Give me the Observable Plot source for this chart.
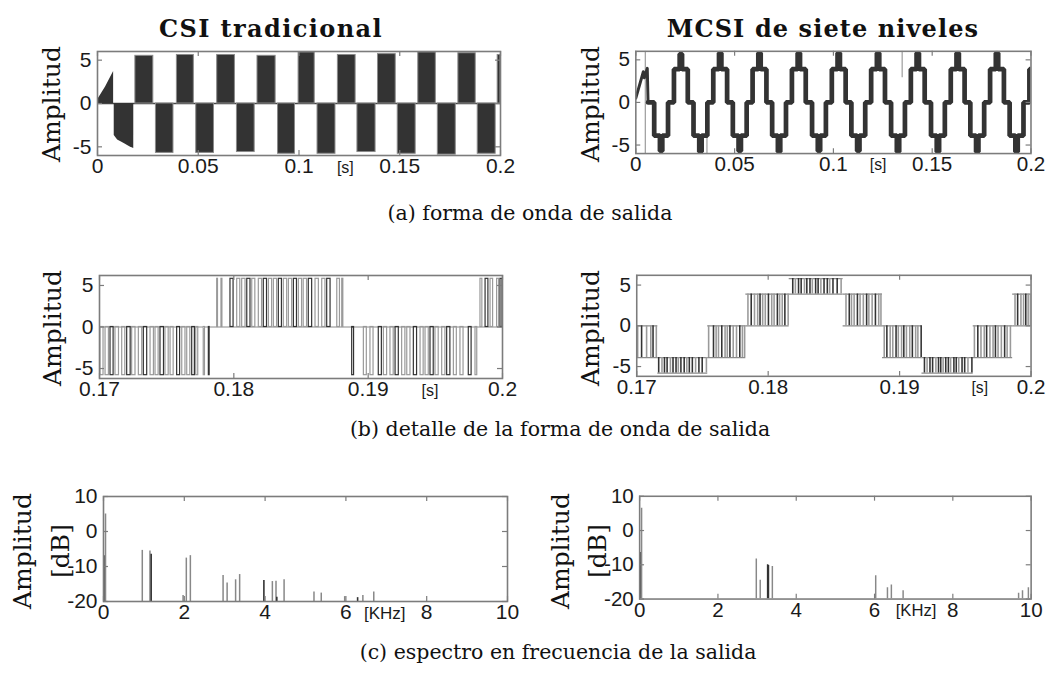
<!DOCTYPE html>
<html><head><meta charset="utf-8">
<script src="https://cdn.jsdelivr.net/npm/d3@7"></script>
<script src="https://cdn.jsdelivr.net/npm/@observablehq/plot@0.6"></script>
<style>
body{margin:0;background:#fff;}
#fig{position:relative;width:1060px;height:680px;overflow:hidden;background:#fff;}
.panel{position:absolute;}
#overlay{position:absolute;left:0;top:0;pointer-events:none;}
</style></head><body><div id="fig"></div>
<script>
// ---------- (a) left: CSI tradicional, full waveform ----------
const csiRampT = [0, 0.0040, 0.0080];
const csiRampV = [0.4, 1.9, 3.7];
const csiFirstNegT = [0.0083, 0.0100, 0.0130, 0.0160, 0.0180];
const csiFirstNegV = [-3.7, -4.2, -4.6, -5.0, -5.2];
const csiPosStart = [0.0188, 0.0394, 0.0594, 0.0794, 0.0998, 0.1193, 0.1392, 0.1592, 0.1791, 0.1986];
const csiPosEnd   = [0.0277, 0.0478, 0.0682, 0.0884, 0.1078, 0.1281, 0.1480, 0.1679, 0.1877, 0.2000];
const csiPosLevel = [5.5, 5.6, 5.6, 5.5, 5.9, 5.6, 5.7, 5.9, 5.8, 5.6];
const csiNegStart = [0.0290, 0.0490, 0.0692, 0.0896, 0.1092, 0.1290, 0.1490, 0.1689, 0.1887];
const csiNegEnd   = [0.0377, 0.0578, 0.0780, 0.0980, 0.1181, 0.1380, 0.1579, 0.1778, 0.1976];
const csiNegLevel = [-5.7, -5.7, -5.6, -5.8, -5.8, -5.6, -5.8, -5.9, -5.8];

// ---------- (a) right: MCSI de siete niveles ----------
const mcsiStartT = [0, 0.0038, 0.0043, 0.0058, 0.0062];
const mcsiStartV = [0.5, 3.6, 2.9, 4.0, 0];
const mcsiT = [
 0.0062,
 0.0093,0.0122,0.0134,0.0163,0.0193,0.0222,0.0234,0.0263,
 0.0292,0.0321,0.0333,0.0362,0.0392,0.0421,0.0433,0.0462,
 0.0491,0.0520,0.0532,0.0561,0.0591,0.0620,0.0632,0.0661,
 0.0690,0.0719,0.0731,0.0760,0.0790,0.0819,0.0831,0.0860,
 0.0892,0.0921,0.0933,0.0962,0.0992,0.1021,0.1033,0.1062,
 0.1091,0.1120,0.1132,0.1161,0.1191,0.1220,0.1232,0.1261,
 0.1292,0.1321,0.1333,0.1362,0.1392,0.1421,0.1433,0.1462,
 0.1494,0.1523,0.1535,0.1564,0.1594,0.1623,0.1635,0.1664,
 0.1693,0.1722,0.1734,0.1763,0.1793,0.1822,0.1834,0.1863,
 0.1892,0.1921,0.1933,0.1962,0.1992,0.2000
];
const mcsiV = [
 0,
 -3.9,-5.7,-3.9,0,3.9,5.7,3.9,0,
 -3.9,-5.8,-3.9,0,3.9,5.8,3.9,0,
 -3.9,-5.7,-3.9,0,3.9,5.8,3.9,0,
 -3.9,-5.8,-3.9,0,3.9,5.8,3.9,0,
 -3.9,-5.7,-3.9,0,3.9,5.8,3.9,0,
 -3.9,-5.7,-3.9,0,3.9,5.8,3.9,0,
 -3.9,-5.8,-3.9,0,3.9,5.8,3.9,0,
 -3.9,-5.8,-3.9,0,3.9,5.8,3.9,0,
 -3.9,-5.8,-3.9,0,3.9,5.8,3.9,0,
 -3.9,-5.8,-3.9,0,3.9,3.9
];
const mcsiSpikeT  = [0.0048, 0.0360, 0.1348];
const mcsiSpikeLo = [-6, -6, 2.9];
const mcsiSpikeHi = [6, 0, 6];

// ---------- (b) left: CSI detail, pulses ----------
const csiDetNeg1Start = [0.17007,0.17045,0.17082,0.17119,0.17169,0.17206,0.17243,0.17293,0.17330,0.17380,0.17417,0.17454,0.17491,0.17529,0.17578,0.17616,0.17653,0.17690,0.17720,0.17776,0.17814];
const csiDetNeg1End   = [0.17030,0.17070,0.17105,0.17145,0.17192,0.17232,0.17268,0.17318,0.17355,0.17405,0.17440,0.17480,0.17515,0.17552,0.17600,0.17640,0.17676,0.17710,0.17735,0.17785,0.17820];
const csiDetPos1Start = [0.17876,0.17908,0.17975,0.18025,0.18062,0.18100,0.18137,0.18186,0.18223,0.18261,0.18298,0.18335,0.18372,0.18410,0.18447,0.18484,0.18520,0.18558,0.18608,0.18658,0.18695,0.18770,0.18807];
const csiDetPos1End   = [0.17882,0.17915,0.17998,0.18048,0.18087,0.18124,0.18160,0.18210,0.18247,0.18285,0.18322,0.18358,0.18397,0.18434,0.18470,0.18508,0.18545,0.18583,0.18633,0.18682,0.18720,0.18790,0.18815];
const csiDetNeg2Start = [0.18881,0.18968,0.19017,0.19079,0.19117,0.19166,0.19204,0.19253,0.19291,0.19340,0.19390,0.19427,0.19464,0.19501,0.19551,0.19588,0.19638,0.19687,0.19749,0.19799];
const csiDetNeg2End   = [0.18895,0.18990,0.19040,0.19102,0.19141,0.19190,0.19228,0.19277,0.19315,0.19364,0.19413,0.19451,0.19488,0.19525,0.19575,0.19612,0.19660,0.19710,0.19770,0.19812];
const csiDetPos2Start = [0.19836,0.19874,0.19911,0.19960,0.19985];
const csiDetPos2End   = [0.19850,0.19895,0.19930,0.19975,0.20000];
const csiDetLevel = 5.8;

// ---------- (b) right: MCSI detail, level bands and switching instants ----------
const mcsiDetStart = [0.1700, 0.1716, 0.1754, 0.1783, 0.1816, 0.1857, 0.1887, 0.1917, 0.1956, 0.1986];
const mcsiDetEnd   = [0.1716, 0.1754, 0.1783, 0.1816, 0.1857, 0.1887, 0.1917, 0.1956, 0.1986, 0.2000];
const mcsiDetLo    = [-3.9, -5.8, -3.9, 0, 3.9, 0, -3.9, -5.8, -3.9, 0];
const mcsiDetHi    = [0, -3.9, 0, 3.9, 5.8, 3.9, 0, -3.9, 0, 3.9];
const mcsiDetPulses = [
 [0.17007,0.17037,0.17075,0.17107,0.17124,0.17149],
 [0.17167,0.17192,0.17211,0.17231,0.17256,0.17276,0.17299,0.17316,0.17336,0.17361,0.17381,0.17400,0.17423,0.17448,0.17473,0.17498,0.17530],
 [0.17547,0.17584,0.17604,0.17622,0.17647,0.17672,0.17689,0.17709,0.17734,0.17759,0.17784,0.17804,0.17821],
 [0.17846,0.17871,0.17896,0.17920,0.17938,0.17958,0.17978,0.18002,0.18027,0.18045,0.18070,0.18087,0.18107,0.18127,0.18152],
 [0.18187,0.18207,0.18231,0.18251,0.18276,0.18294,0.18318,0.18336,0.18361,0.18380,0.18401,0.18425,0.18450,0.18468,0.18493,0.18525,0.18555],
 [0.18592,0.18617,0.18634,0.18654,0.18679,0.18699,0.18724,0.18749,0.18766,0.18791,0.18816,0.18841,0.18858],
 [0.18883,0.18903,0.18928,0.18948,0.18973,0.18990,0.19015,0.19032,0.19052,0.19077,0.19097,0.19122,0.19139,0.19164],
 [0.19189,0.19209,0.19231,0.19251,0.19276,0.19296,0.19313,0.19331,0.19351,0.19371,0.19388,0.19413,0.19431,0.19450,0.19475,0.19495,0.19520,0.19550],
 [0.19569,0.19595,0.19619,0.19644,0.19662,0.19687,0.19711,0.19729,0.19749,0.19774,0.19799,0.19818,0.19843],
 [0.19878,0.19898,0.19923,0.19943,0.19960,0.19978,0.19995]
];

// ---------- (c) spectra ----------
const specLeftGrayF  = [0.05, 0.96, 1.15, 1.97, 2.05, 2.15, 2.96, 3.06, 3.27, 3.37, 4.18, 4.27, 4.47, 5.21, 5.39, 5.97, 6.42, 6.69];
const specLeftGrayDb = [5.0, -5.4, -5.6, -18.3, -7.6, -6.9, -12.6, -14.7, -13.8, -12.3, -14.3, -14.2, -13.8, -17.3, -17.6, -18.6, -18.3, -17.3];
const specLeftDarkF  = [0.01, 1.18, 3.97, 4.29, 6.29];
const specLeftDarkDb = [-6.9, -6.5, -14.0, -18.8, -18.9];
const specRightGrayF  = [0.05, 2.98, 3.08, 3.39, 6.03, 6.33, 6.43, 6.73, 9.68, 9.78, 9.93];
const specRightGrayDb = [6.5, -8.3, -14.5, -10.5, -13.2, -16.7, -15.9, -17.6, -18.3, -17.6, -16.7];
const specRightDarkF  = [0.01, 3.27, 3.29];
const specRightDarkDb = [-6.4, -10.0, -10.2];

// ---------- axes / text ----------
const timeTicksA = [0, 0.05, 0.1, 0.15, 0.2];
const timeTicksB = [0.17, 0.18, 0.19, 0.2];
const freqTicks = [0, 2, 4, 6, 8, 10];
const ampTicks = [-5, 0, 5];
const dbTicks = [-20, -10, 0, 10];
const titles = ["CSI tradicional", "MCSI de siete niveles"];
const captions = ["(a) forma de onda de salida", "(b) detalle de la forma de onda de salida", "(c) espectro en frecuencia de la salida"];

const DARK = "#333333", GRAY = "#9a9a9a", FRAME = "#7c7c7c", TICKC = "#7c7c7c";
const fig = document.getElementById("fig");

function panel({left, top, fw, fh, xDomain, yDomain, xTicks, yTicks, unit, unitX, unitSize, marks}) {
  const m = {l: 40, r: 30, t: 10, b: 34};
  const [x0, x1] = xDomain, [y0, y1] = yDomain;
  const dx = 5 * (x1 - x0) / fw, dy = 5 * (y1 - y0) / fh;
  const chart = Plot.plot({
    width: fw + m.l + m.r, height: fh + m.t + m.b,
    marginLeft: m.l, marginRight: m.r, marginTop: m.t, marginBottom: m.b,
    x: {domain: xDomain, axis: null, label: null},
    y: {domain: yDomain, axis: null, label: null},
    style: {background: "transparent", overflow: "visible", fontFamily: "'Liberation Sans', Arial, sans-serif", fontSize: "21px", color: "#1a1a1a"},
    marks: [
      ...marks,
      Plot.ruleX(xTicks, {x: d => d, y1: y0, y2: y0 + dy, stroke: TICKC, strokeWidth: 1.2}),
      Plot.ruleX(xTicks, {x: d => d, y1: y1 - dy, y2: y1, stroke: TICKC, strokeWidth: 1.2}),
      Plot.ruleY(yTicks, {y: d => d, x1: x0, x2: x0 + dx, stroke: TICKC, strokeWidth: 1.2}),
      Plot.ruleY(yTicks, {y: d => d, x1: x1 - dx, x2: x1, stroke: TICKC, strokeWidth: 1.2}),
      Plot.frame({stroke: FRAME, strokeWidth: 1.6}),
      Plot.axisX(xTicks, {tickSize: 0, tickPadding: 3, tickFormat: d => String(d), fontSize: 21, fill: "#1a1a1a", label: null}),
      Plot.axisY(yTicks, {tickSize: 0, tickPadding: 6, tickFormat: d => String(d), fontSize: 21, fill: "#1a1a1a", label: null}),
      Plot.text([unitX], {x: d => d, frameAnchor: "bottom", lineAnchor: "middle", dy: 12, text: () => unit, fontSize: unitSize, fill: "#1a1a1a"})
    ]
  });
  const div = document.createElement("div");
  div.className = "panel";
  div.style.left = (left - m.l) + "px";
  div.style.top = (top - m.t) + "px";
  div.appendChild(chart);
  fig.appendChild(div);
}

// (a) left
const csiBlocks = [
  ...csiPosStart.map((s, i) => ({s, e: csiPosEnd[i], v: csiPosLevel[i]})),
  ...csiNegStart.map((s, i) => ({s, e: csiNegEnd[i], v: csiNegLevel[i]}))
];
panel({left: 97, top: 51, fw: 403, fh: 104, xDomain: [0, 0.2], yDomain: [-6, 6],
  xTicks: timeTicksA, yTicks: ampTicks, unit: "[s]", unitX: 0.123, unitSize: 16,
  marks: [
    Plot.ruleY([0], {stroke: "#444", strokeWidth: 1.6}),
    Plot.areaY(csiRampT, {x: d => d, y: (d, i) => csiRampV[i], fill: DARK, clip: true}),
    Plot.areaY(csiFirstNegT, {x: d => d, y: (d, i) => csiFirstNegV[i], fill: DARK, clip: true}),
    Plot.rect(csiBlocks, {x1: "s", x2: "e", y1: 0, y2: "v", fill: DARK, stroke: "#8a8a8a", strokeWidth: 1, clip: true})
  ]});

// (a) right
panel({left: 636, top: 51, fw: 402, fh: 104, xDomain: [0, 0.2], yDomain: [-6, 6],
  xTicks: timeTicksA, yTicks: ampTicks, unit: "[s]", unitX: 0.1226, unitSize: 16,
  marks: [
    Plot.ruleX(mcsiSpikeT, {x: d => d, y1: (d, i) => mcsiSpikeLo[i], y2: (d, i) => mcsiSpikeHi[i], stroke: GRAY, strokeWidth: 1.2, clip: true}),
    Plot.line(mcsiStartT, {x: d => d, y: (d, i) => mcsiStartV[i], stroke: DARK, strokeWidth: 3, clip: true}),
    Plot.line(mcsiT, {x: d => d, y: (d, i) => mcsiV[i], curve: "step-after", stroke: DARK, strokeWidth: 4.8, strokeLinejoin: "miter", clip: true})
  ]});

// (b) left
const csiPulses = [
  ...csiDetNeg1Start.map((s, i) => ({s, e: csiDetNeg1End[i], v: -csiDetLevel})),
  ...csiDetPos1Start.map((s, i) => ({s, e: csiDetPos1End[i], v: csiDetLevel})),
  ...csiDetNeg2Start.map((s, i) => ({s, e: csiDetNeg2End[i], v: -csiDetLevel})),
  ...csiDetPos2Start.map((s, i) => ({s, e: csiDetPos2End[i], v: csiDetLevel}))
];
panel({left: 99, top: 275, fw: 403, fh: 103, xDomain: [0.17, 0.2], yDomain: [-6.2, 6.2],
  xTicks: timeTicksB, yTicks: ampTicks, unit: "[s]", unitX: 0.1946, unitSize: 16,
  marks: [
    Plot.ruleY([0], {stroke: "#8a8a8a", strokeWidth: 1.2}),
    Plot.rect(csiPulses, {x1: "s", x2: "e", y1: 0, y2: "v", fill: "none",
      stroke: (d, i) => (i % 3 === 2 ? DARK : GRAY), strokeWidth: 1.2, clip: true})
  ]});

// (b) right
const mcsiBands = mcsiDetStart.map((s, i) => ({s, e: mcsiDetEnd[i], lo: mcsiDetLo[i], hi: mcsiDetHi[i]}));
const mcsiSw = mcsiDetPulses.flatMap((ts, r) => ts.map((t, j) => ({t, lo: mcsiDetLo[r], hi: mcsiDetHi[r],
  outer: Math.abs(mcsiDetLo[r]) > 3 && Math.abs(mcsiDetHi[r]) > 3, j})));
panel({left: 637, top: 275, fw: 402, fh: 103, xDomain: [0.17, 0.2], yDomain: [-6.2, 6.2],
  xTicks: timeTicksB, yTicks: ampTicks, unit: "[s]", unitX: 0.1961, unitSize: 16,
  marks: [
    Plot.ruleY(mcsiBands, {y: "lo", x1: "s", x2: "e", stroke: "#8a8a8a", strokeWidth: 1.2, clip: true}),
    Plot.ruleY(mcsiBands, {y: "hi", x1: "s", x2: "e", stroke: "#8a8a8a", strokeWidth: 1.2, clip: true}),
    Plot.ruleX(mcsiSw, {x: "t", y1: "lo", y2: "hi", strokeWidth: 1.6, clip: true,
      stroke: d => d.outer ? (d.j % 3 === 1 ? GRAY : DARK) : (d.j % 3 === 1 ? DARK : GRAY)})
  ]});

// (c) left
panel({left: 103, top: 496, fw: 404, fh: 105, xDomain: [0, 10], yDomain: [-20, 10],
  xTicks: freqTicks, yTicks: dbTicks, unit: "[KHz]", unitX: 6.96, unitSize: 17,
  marks: [
    Plot.ruleX(specLeftGrayF, {x: d => d, y1: -20, y2: (d, i) => specLeftGrayDb[i], stroke: "#888", strokeWidth: 1.5, clip: true}),
    Plot.ruleX(specLeftDarkF, {x: d => d, y1: -20, y2: (d, i) => specLeftDarkDb[i], stroke: DARK, strokeWidth: 1.6, clip: true})
  ]});

// (c) right
panel({left: 640, top: 496, fw: 400, fh: 105, xDomain: [0, 10], yDomain: [-20, 10],
  xTicks: freqTicks, yTicks: dbTicks, unit: "[KHz]", unitX: 7.06, unitSize: 17,
  marks: [
    Plot.ruleX(specRightGrayF, {x: d => d, y1: -20, y2: (d, i) => specRightGrayDb[i], stroke: "#888", strokeWidth: 1.5, clip: true}),
    Plot.ruleX(specRightDarkF, {x: d => d, y1: -20, y2: (d, i) => specRightDarkDb[i], stroke: DARK, strokeWidth: 1.6, clip: true})
  ]});

// ---------- overlay text ----------
const svg = d3.select(fig).append("svg").attr("id", "overlay").attr("width", 1060).attr("height", 680);
const serif = "'DejaVu Serif', 'Liberation Serif', serif";
svg.append("text").attr("x", 271).attr("y", 37).attr("text-anchor", "middle").attr("letter-spacing", 1.4)
  .attr("font-family", serif).attr("font-weight", "bold").attr("font-size", 24).attr("fill", "#111").text(titles[0]);
svg.append("text").attr("x", 823).attr("y", 37).attr("text-anchor", "middle").attr("letter-spacing", 1.1)
  .attr("font-family", serif).attr("font-weight", "bold").attr("font-size", 24).attr("fill", "#111").text(titles[1]);
[[530, 220], [560, 436], [558, 659]].forEach(([x, y], i) => {
  svg.append("text").attr("x", x).attr("y", y).attr("text-anchor", "middle")
    .attr("font-family", serif).attr("font-size", 20.5).attr("fill", "#111").text(captions[i]);
});
const ylabels = [
  ["Amplitud", 51, 104], ["Amplitud", 590, 104],
  ["Amplitud", 52, 328], ["Amplitud", 590, 328],
  ["Amplitud", 22, 551], ["[dB]", 60, 551],
  ["Amplitud", 560, 551], ["[dB]", 597, 551]
];
ylabels.forEach(([t, x, y]) => {
  svg.append("text").attr("transform", `translate(${x},${y}) rotate(-90)`)
    .attr("text-anchor", "middle").attr("dominant-baseline", "central")
    .attr("font-family", serif).attr("font-size", 25).attr("fill", "#111").text(t);
});
</script></body></html>
